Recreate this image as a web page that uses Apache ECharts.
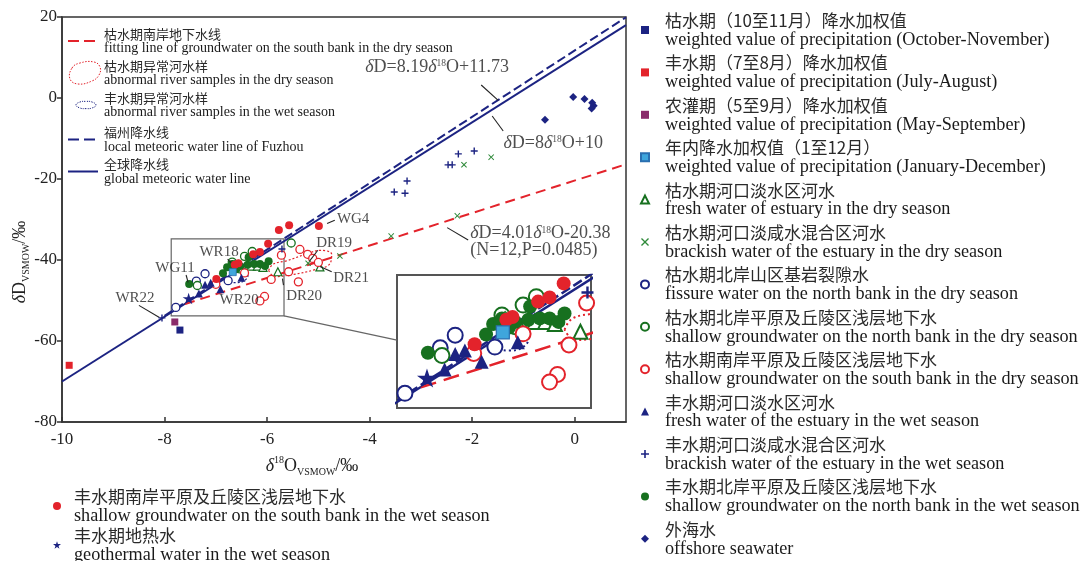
<!DOCTYPE html>
<html><head><meta charset="utf-8">
<script src="https://cdn.jsdelivr.net/npm/echarts@6/dist/echarts.min.js"></script>
<style>html,body{margin:0;padding:0;background:#fff}#c{width:1084px;height:561px}</style>
</head><body><div id="c"></div>
<script>
// ---------------- data ----------------
const precipOctNov = [[-7.70,-57.3]];
const precipJulAug = [[-9.86,-66.0]];
const precipMaySep = [[-7.80,-55.3]];
const precipAnnual = [[-6.67,-43.0]];
const dryEstuaryFresh = [[-6.31,-41.5],[-6.19,-41.5],[-6.08,-41.8],[-5.79,-42.9],[-4.97,-41.7]];
const dryEstuaryBrackish = [[-2.16,-16.5],[-1.63,-14.6],[-2.29,-29.1],[-3.58,-34.1],[-4.58,-39.0],[-5.20,-40.8],[-6.60,-40.6]];
const dryNorthFissure = [[-7.78,-51.7],[-7.21,-43.4],[-7.38,-45.2],[-6.76,-45.1]];
const dryNorthShallow = [[-7.36,-46.3],[-6.68,-40.5],[-6.44,-39.1],[-6.29,-37.9],[-5.53,-35.8],[-6.53,-42.2]];
const drySouthShallow = [[-5.36,-37.4],[-5.21,-38.6],[-5.11,-39.6],[-5.39,-45.4],[-5.58,-42.9],[-5.92,-44.8],[-6.05,-49.0],[-6.14,-50.1],[-6.44,-43.2],[-5.72,-38.8],[-7.00,-46.0],[-5.00,-40.6]];
const wetEstuaryFresh = [[-7.21,-46.1],[-7.10,-45.6],[-6.91,-47.2],[-6.50,-44.4],[-7.33,-48.3]];
const wetEstuaryBrackish = [[-2.27,-13.8],[-1.96,-13.1],[-2.47,-16.5],[-2.39,-16.5],[-3.27,-20.5],[-3.52,-23.2],[-3.31,-23.5],[-5.71,-37.3],[-8.05,-54.3]];
const wetNorthShallow = [[-7.52,-45.9],[-6.86,-43.3],[-6.78,-41.8],[-6.68,-41.0],[-6.53,-41.5],[-6.38,-41.2],[-6.25,-41.0],[-6.14,-41.0],[-6.04,-41.5],[-5.97,-40.3],[-6.36,-39.3],[-6.70,-41.5],[-6.60,-42.3]];
const offshoreSeawater = [[-0.03,0.25],[0.19,-0.25],[0.34,-1.2],[0.37,-1.9],[0.33,-2.6],[-0.58,-5.4]];
const wetSouthShallow = [[-5.77,-32.6],[-5.57,-31.4],[-4.99,-31.6],[-5.98,-36.0],[-6.14,-38.0],[-6.27,-38.6],[-6.56,-40.8],[-6.63,-41.2],[-6.99,-44.7]];
const geothermal = [[-7.53,-49.5]];

// reference lines (end points of the drawn equations)
const gmwlLine = [[-10,-70],[1,18]];            // δD=8δ18O+10
const lmwlLine = [[-8,-53.79],[1,19.92]];       // δD=8.19δ18O+11.73
const dryFitLine = [[-7.6,-50.86],[1,-16.37]];  // δD=4.01δ18O-20.38

// dotted outlines of abnormal river samples
const dryAbnormalOutline = [[-5.97,-42.6],[-5.88,-41.0],[-5.62,-40.2],[-5.25,-38.6],[-4.95,-37.6],[-4.74,-38.6],[-4.78,-41.0],[-5.10,-42.5],[-5.50,-43.6],[-5.85,-44.1],[-5.97,-42.6]];
const wetAbnormalOutline = [[-6.83,-43.6],[-6.76,-42.1],[-6.60,-41.6],[-6.44,-42.1],[-6.37,-43.6],[-6.44,-45.1],[-6.60,-45.6],[-6.76,-45.1],[-6.83,-43.6]];

// axes
const xRange = [-10, 1], xInterval = 2;
const yRange = [-80, 20], yInterval = 20;
const insetXRange = [-7.87, -5.67];
const insetYRange = [-53.8, -34.8];

// series names
const seriesNamesCn = ['枯水期（10至11月）降水加权值','丰水期（7至8月）降水加权值','农灌期（5至9月）降水加权值','年内降水加权值（1至12月）',
 '枯水期河口淡水区河水','枯水期河口淡咸水混合区河水','枯水期北岸山区基岩裂隙水','枯水期北岸平原及丘陵区浅层地下水','枯水期南岸平原及丘陵区浅层地下水',
 '丰水期河口淡水区河水','丰水期河口淡咸水混合区河水','丰水期北岸平原及丘陵区浅层地下水','外海水','丰水期南岸平原及丘陵区浅层地下水','丰水期地热水'];
const seriesNamesEn = ['weighted value of precipitation (October-November)','weighted value of precipitation (July-August)','weighted value of precipitation (May-September)','weighted value of precipitation (January-December)',
 'fresh water of estuary in the dry season','brackish water of the estuary in the dry season','fissure water on the north bank in the dry season','shallow groundwater on the north bank in the dry season','shallow groundwater on the south bank in the dry season',
 'fresh water of the estuary in the wet season','brackish water of the estuary in the wet season','shallow groundwater on the north bank in the wet season','offshore seawater','shallow groundwater on the south bank in the wet season','geothermal water in the wet season'];
const lineLegendCn = ['枯水期南岸地下水线','枯水期异常河水样','丰水期异常河水样','福州降水线','全球降水线'];
const lineLegendEn = ['fitting line of groundwater on the south bank in the dry season','abnormal river samples in the dry season','abnormal river samples in the wet season','local meteoric water line of Fuzhou','global meteoric water line'];

// annotation texts with their anchor (data coords) and pointer segments
const annotationTexts = ['WR22','WG11','WR18','WR20','DR19','DR20','DR21','WG4',
 '{i|δ}{n|D=8.19}{i|δ}{sup|18}{n|O+11.73}',
 '{i|δ}{n|D=8}{i|δ}{sup|18}{n|O+10}',
 '{i|δ}{n|D=4.01}{i|δ}{sup|18}{n|O-20.38}\n{n|(N=12,P=0.0485)}'];
const annotationAt = [[-8.576,-49.38],[-7.795,-41.98],[-6.937,-38.02],[-6.546,-49.88],[-4.693,-35.8],[-5.278,-48.89],[-4.361,-44.44],[-4.322,-29.88],[-2.683,7.65],[-0.42,-11.11],[-2.039,-35.56]];
const pointerSegments = [
 [[-8.50,-51.2],[-8.10,-54.2]], [[-7.58,-43.7],[-7.54,-45.5]], [[-6.77,-39.8],[-6.68,-40.9]],
 [[-5.01,-37.6],[-5.18,-40.4]], [[-5.70,-44.6],[-5.68,-46.2]], [[-4.74,-42.9],[-4.97,-41.6]],
 [[-4.83,-31.0],[-4.68,-30.2]],
 [[-1.824,3.21],[-1.493,-0.6]], [[-1.61,-4.44],[-1.395,-8.15]], [[-2.488,-32.0],[-2.078,-35.06]]
];

// ---------------- chart ----------------
const NAVY='#1c2382', RED='#e3232b', GREEN='#17701f', GREENX='#2f8a3a', LBLUE='#3fa6dc', PURPLE='#8a2b6b', INK='#222';
const SERIF='"Liberation Serif","Times New Roman",serif';
const CJK='"Noto Sans CJK SC",sans-serif';
const SYM_X='path://M0,1.2L1.2,0L5,3.8L8.8,0L10,1.2L6.2,5L10,8.8L8.8,10L5,6.2L1.2,10L0,8.8L3.8,5Z';
const SYM_PLUS='path://M4,0H6V4H10V6H6V10H4V6H0V4H4Z';
const SYM_STAR='path://M5,0L6.18,3.62L10,3.62L6.91,5.86L8.09,9.48L5,7.24L1.91,9.48L3.09,5.86L0,3.62L3.82,3.62Z';

const markerDefs = [
 {d:precipOctNov, sym:'rect', fill:NAVY, size:[7,12], z:4},
 {d:precipJulAug, sym:'rect', fill:RED, size:[7,12], z:4},
 {d:precipMaySep, sym:'rect', fill:PURPLE, size:[7,12], z:4},
 {d:precipAnnual, sym:'rect', fill:LBLUE, border:'#2a6fb0', bw:[0.8,1.2], size:[7,13], z:6},
 {d:dryEstuaryFresh, sym:'triangle', fill:'#fff', border:GREEN, bw:[1.2,2], size:[8,14], z:3},
 {d:dryEstuaryBrackish, sym:SYM_X, fill:GREENX, size:[6,10], z:5},
 {d:dryNorthFissure, sym:'circle', fill:'#fff', border:NAVY, bw:[1.3,2], size:[8,15], z:3},
 {d:dryNorthShallow, sym:'circle', fill:'#fff', border:GREEN, bw:[1.3,2], size:[8,15], z:3},
 {d:drySouthShallow, sym:'circle', fill:'#fff', border:RED, bw:[1.3,2], size:[8,15], z:3},
 {d:wetEstuaryFresh, sym:'triangle', fill:NAVY, size:[8,14], z:5},
 {d:wetEstuaryBrackish, sym:SYM_PLUS, fill:NAVY, size:[7,12], z:5},
 {d:wetNorthShallow, sym:'circle', fill:GREEN, size:[8,14], z:4},
 {d:offshoreSeawater, sym:'diamond', fill:NAVY, size:[8,13], z:5},
 {d:wetSouthShallow, sym:'circle', fill:RED, size:[8,14], z:5},
 {d:geothermal, sym:SYM_STAR, fill:NAVY, size:[12,20], z:6}
];

const series = [];
markerDefs.forEach((m, i) => {
  [0,1].forEach(k => {
    series.push({
      type:'scatter', name: seriesNamesCn[i], data: m.d,
      xAxisIndex:k, yAxisIndex:k, clip:true, z:m.z,
      symbol:m.sym, symbolSize:m.size[k], symbolKeepAspect:true,
      itemStyle: Object.assign({color:m.fill, opacity:1}, m.border ? {borderColor:m.border, borderWidth:m.bw[k]} : {}),
      emphasis:{disabled:true}
    });
  });
});

const lineW = [2, 2.5];
[0,1].forEach(k => {
  series.push({type:'line', name:'全球降水线', data:gmwlLine, xAxisIndex:k, yAxisIndex:k, symbol:'none', z:2,
    lineStyle:{color:NAVY, width:lineW[k]}, emphasis:{disabled:true}, silent:true,
    markLine: k===0 ? {silent:true, symbol:['none','none'], label:{show:false}, lineStyle:{color:INK, width:1.1, type:'solid'},
      data: pointerSegments.map(s => [{coord:s[0]},{coord:s[1]}])} : undefined,
    markArea: k===0 ? {silent:true, itemStyle:{color:'rgba(0,0,0,0)', borderColor:'#666', borderWidth:1.2},
      data:[[{coord:[insetXRange[0], insetYRange[1]]},{coord:[insetXRange[1], insetYRange[0]]}]]} : undefined
  });
  series.push({type:'line', name:'福州降水线', data:lmwlLine, xAxisIndex:k, yAxisIndex:k, symbol:'none', z:2, silent:true,
    lineStyle:{color:NAVY, width:lineW[k], type:k===0?[9,4]:[10,4]}, emphasis:{disabled:true}});
  series.push({type:'line', name:'枯水期南岸地下水线', data:dryFitLine, xAxisIndex:k, yAxisIndex:k, symbol:'none', z:2, silent:true,
    lineStyle:{color:RED, width:lineW[k], type:k===0?[10,6]:[16,8]}, emphasis:{disabled:true}});
  series.push({type:'line', name:'枯水期异常河水样', data:dryAbnormalOutline, xAxisIndex:k, yAxisIndex:k, symbol:'none', smooth:0.4, z:2, silent:true,
    lineStyle:{color:RED, width:k===0?1.2:2, type:k===0?[2,2]:[2,3]}, emphasis:{disabled:true}});
  series.push({type:'line', name:'丰水期异常河水样', data:wetAbnormalOutline, xAxisIndex:k, yAxisIndex:k, symbol:'none', smooth:0.4, z:2, silent:true,
    lineStyle:{color:NAVY, width:k===0?1.2:2, type:k===0?[2,2]:[2,3]}, emphasis:{disabled:true}});
});

const eqRich = {
  i:{fontFamily:SERIF, fontStyle:'italic', fontSize:18, lineHeight:17, color:INK},
  n:{fontFamily:SERIF, fontSize:18, lineHeight:17, color:INK},
  sup:{fontFamily:SERIF, fontSize:9.5, lineHeight:9, verticalAlign:'top', color:INK}
};
series.push({
  type:'scatter', name:'_labels', xAxisIndex:0, yAxisIndex:0, symbolSize:0, silent:true, z:10,
  data: annotationTexts.map((t, i) => ({value: annotationAt[i], label:{formatter:t, align: i===10 ? 'left' : 'center'}})),
  label:{show:true, position:'inside', color:INK, fontFamily:SERIF, fontSize:15, verticalAlign:'middle', rich:eqRich},
  emphasis:{disabled:true}
});

const makeLegendRich = pad => ({
  cn:{fontFamily:CJK, fontSize:17, lineHeight:20, color:'#2a2a2a', padding:[0,0,0,pad]},
  en:{fontFamily:SERIF, fontSize:18.2, lineHeight:19, color:'#1a1a1a', padding:[0,0,0,pad]}
});
const enOf = n => seriesNamesEn[seriesNamesCn.indexOf(n)];

const chart = echarts.init(document.getElementById('c'), null, {renderer:'canvas'});
const option = {
  animation:false,
  backgroundColor:'#fff',
  grid:[
    {left:62, right:458, top:17, bottom:139, show:true, borderColor:'#333', borderWidth:1.5, outerBoundsMode:'none'},
    {left:397, top:275, width:194, height:133, show:true, borderColor:'#555', borderWidth:2, backgroundColor:'#fff', outerBoundsMode:'none', z:1}
  ],
  xAxis:[
    {gridIndex:0, type:'value', min:xRange[0], max:xRange[1], interval:xInterval,
     axisLine:{show:true, onZero:false, lineStyle:{color:'#333', width:1.5}},
     axisTick:{show:true, inside:true, length:5, lineStyle:{color:'#333', width:1.5}},
     axisLabel:{showMaxLabel:false, fontFamily:SERIF, fontSize:17, color:INK, margin:9},
     splitLine:{show:false}},
    {gridIndex:1, type:'value', min:insetXRange[0], max:insetXRange[1], show:false, splitLine:{show:false}}
  ],
  yAxis:[
    {gridIndex:0, type:'value', min:yRange[0], max:yRange[1], interval:yInterval,
     axisLine:{show:true, onZero:false, lineStyle:{color:'#333', width:1.5}},
     axisTick:{show:true, inside:false, length:5, lineStyle:{color:'#333', width:1.5}},
     axisLabel:{fontFamily:SERIF, fontSize:17, color:INK, margin:5},
     splitLine:{show:false}},
    {gridIndex:1, type:'value', min:insetYRange[0], max:insetYRange[1], show:false, splitLine:{show:false}}
  ],
  legend:[
    {data: seriesNamesCn.slice(0,13), orient:'vertical', left:640, top:12, height:600, itemWidth:8, itemHeight:8, itemGap:5.4,
     selectedMode:false, formatter: n => `{cn|${n}}\n{en|${enOf(n)}}`, textStyle:{rich:makeLegendRich(11)}, padding:0},
    {data: seriesNamesCn.slice(13), orient:'vertical', left:53, top:488, height:200, itemWidth:8, itemHeight:8, itemGap:2,
     selectedMode:false, formatter: n => `{cn|${n}}\n{en|${enOf(n)}}`, textStyle:{rich:makeLegendRich(8)}, padding:0}
  ],
  series
};
chart.setOption(option);

// ---------------- inner legend, titles, connector ----------------
const titleRich = {
  i:{fontFamily:SERIF, fontStyle:'italic', fontSize:18, lineHeight:22, fill:INK, color:INK},
  n:{fontFamily:SERIF, fontSize:18, lineHeight:22, fill:INK, color:INK},
  sup:{fontFamily:SERIF, fontSize:10, lineHeight:11, verticalAlign:'top', fill:INK, color:INK},
  sub:{fontFamily:SERIF, fontSize:10, lineHeight:11, verticalAlign:'bottom', fill:INK, color:INK}
};
const cnY = [34, 66, 98, 132, 164], enY = [48, 80, 112, 147, 179];
const g = [];
lineLegendCn.forEach((t, i) => {
  g.push({type:'text', x:104, y:cnY[i], z:20, style:{text:t, font:'13px "Noto Sans CJK SC"', fill:'#2a2a2a', align:'left', verticalAlign:'middle'}});
  g.push({type:'text', x:104, y:enY[i], z:20, style:{text:lineLegendEn[i], font:'14px "Liberation Serif"', fill:'#1a1a1a', align:'left', verticalAlign:'middle'}});
});
const iy = i => (cnY[i] + enY[i]) / 2;
g.push({type:'line', z:20, shape:{x1:68, y1:iy(0), x2:98, y2:iy(0)}, style:{stroke:RED, lineWidth:2, lineDash:[11,5]}});
g.push({type:'polygon', z:20, shape:{smooth:0.45, points:[[72,68],[80,63],[94,62],[100,67],[99,75],[92,81],[78,84],[70,79]]},
  style:{fill:'none', stroke:RED, lineWidth:1, lineDash:[1.5,1.5]}});
g.push({type:'polygon', z:20, shape:{smooth:0.5, points:[[76,iy(2)],[80,iy(2)-3],[86,iy(2)-3.6],[92,iy(2)-3],[96,iy(2)],[92,iy(2)+3],[86,iy(2)+3.6],[80,iy(2)+3]]},
  style:{fill:'none', stroke:NAVY, lineWidth:1, lineDash:[1.2,1.2]}});
g.push({type:'line', z:20, shape:{x1:68, y1:iy(3), x2:98, y2:iy(3)}, style:{stroke:NAVY, lineWidth:2, lineDash:[11,5]}});
g.push({type:'line', z:20, shape:{x1:68, y1:iy(4), x2:98, y2:iy(4)}, style:{stroke:NAVY, lineWidth:2}});

g.push({type:'text', x:312, y:466, z:20, style:{text:'{i|δ}{sup|18}{n|O}{sub|VSMOW}{n|/‰}', rich:titleRich, align:'center', verticalAlign:'middle'}});
g.push({type:'text', x:20, y:262, rotation:Math.PI/2, z:20, style:{text:'{i|δ}{n|D}{sub|VSMOW}{n|/‰}', rich:titleRich, align:'center', verticalAlign:'middle'}});

const connectorInsetY = -44.1;
const p1 = chart.convertToPixel({gridIndex:0}, [insetXRange[1], insetYRange[0]]);
const p2 = chart.convertToPixel({gridIndex:1}, [insetXRange[0], connectorInsetY]);
g.push({type:'line', z:1, shape:{x1:p1[0], y1:p1[1], x2:p2[0], y2:p2[1]}, style:{stroke:'#666', lineWidth:1.2}});

chart.setOption({graphic: g});
</script></body></html>
